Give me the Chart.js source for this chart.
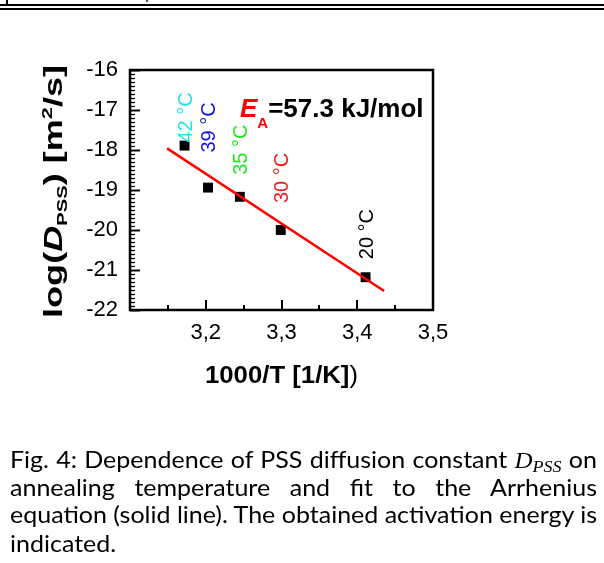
<!DOCTYPE html>
<html><head><meta charset="utf-8">
<script src="https://cdn.jsdelivr.net/npm/chart.js@4.4.1/dist/chart.umd.min.js"></script>
<style>
html,body{margin:0;padding:0;background:#fff;width:604px;height:563px;overflow:hidden}
#wrap{position:relative;width:604px;height:563px}
canvas{position:absolute;left:0;top:0}
.hl{position:absolute;background:#000}
.cap{position:absolute;left:10px;white-space:nowrap;font-family:Lato,"Open Sans",sans-serif;color:#000;line-height:1;transform-origin:0 0}
.math{font-family:"Liberation Serif","DejaVu Serif",serif;font-style:italic}
.bl{display:inline-block;width:0;height:0;vertical-align:baseline}
</style></head>
<body><div id="wrap">
<div class="hl" style="left:0;top:4px;width:604px;height:2px"></div>
<div class="hl" style="left:0;top:8px;width:604px;height:2px"></div>
<div class="hl" style="left:6px;top:0;width:2px;height:4px"></div>
<div class="hl" style="left:146px;top:0;width:2px;height:2px;background:#555"></div>
<canvas id="c" width="604" height="563"></canvas>
<div id="capbox"></div>
</div>
<script>
// ---- data ----
const temperatureLabels = ['42 °C', '39 °C', '35 °C', '30 °C', '20 °C'];
const inverseT = [3.172, 3.203, 3.245, 3.299, 3.411];      // 1000/T [1/K]
const logD = [-17.89, -18.94, -19.17, -20.00, -21.18];      // log(D_PSS)
const fitX = [3.149, 3.4355];
const fitY = [-17.96, -21.525];
const xTickLabels = ['3,2', '3,3', '3,4', '3,5'];
const yTickLabels = ['-16', '-17', '-18', '-19', '-20', '-21', '-22'];
const activationLabel = '=57.3 kJ/mol';
const captionLines = [
  'Fig. 4: Dependence of PSS diffusion constant {D} on',
  'annealing temperature and fit to the Arrhenius',
  'equation (solid line). The obtained activation energy is',
  'indicated.'
];

// ---- styles / layout (not data) ----
const labelColors = ['#22e6e6', '#1212e2', '#22e622', '#f01a1a', '#000000'];
const labelGapPx = [3, 35, 22, 27, 18];
const FONT = '"Liberation Sans", Arial, sans-serif';

function richWidth(ctx, segs) {
  let w = 0;
  for (const s of segs) { ctx.font = s.font; w += ctx.measureText(s.t).width; }
  return w;
}
function drawRich(ctx, segs) {
  let x = 0;
  for (const s of segs) {
    ctx.font = s.font; ctx.fillStyle = s.color || '#000';
    ctx.fillText(s.t, x, s.dy || 0);
    x += ctx.measureText(s.t).width;
  }
}

const deco = {
  id: 'deco',
  afterDraw(chart) {
    const { ctx, chartArea: a, scales: { x, y } } = chart;
    ctx.save();
    ctx.strokeStyle = '#000';
    // y ticks (inward)
    for (let i = 0; i <= 60; i++) {
      const v = -22 + i / 10;
      const py = Math.round(y.getPixelForValue(v)) + 0.5;
      const major = i % 10 === 0;
      ctx.lineWidth = major ? 2 : 1.3;
      ctx.beginPath(); ctx.moveTo(a.left, py); ctx.lineTo(a.left + (major ? 10 : 5), py); ctx.stroke();
    }
    // x ticks (inward)
    for (let k = 0; k <= 8; k++) {
      const v = 3.1 + k * 0.05;
      const px = Math.round(x.getPixelForValue(v));
      const major = k % 2 === 0;
      ctx.lineWidth = 2;
      ctx.beginPath(); ctx.moveTo(px, a.bottom); ctx.lineTo(px, a.bottom - (major ? 10 : 5)); ctx.stroke();
    }
    // frame
    ctx.lineWidth = 2.5;
    ctx.strokeRect(a.left, a.top, a.right - a.left, a.bottom - a.top);

    // temperature labels (rotated)
    ctx.textBaseline = 'alphabetic';
    ctx.textAlign = 'left';
    const fs = 20;
    temperatureLabels.forEach((t, i) => {
      const px = x.getPixelForValue(inverseT[i]);
      const py = y.getPixelForValue(logD[i]) - labelGapPx[i];
      ctx.save();
      ctx.translate(px, py);
      ctx.rotate(-Math.PI / 2);
      ctx.font = fs + 'px ' + FONT;
      ctx.fillStyle = labelColors[i];
      ctx.fillText(t, 0, fs * 0.716 / 2);
      ctx.restore();
    });

    // E_A label
    ctx.save();
    ctx.translate(a.left + 110, a.top + 47);
    drawRich(ctx, [
      { t: 'E', font: 'italic bold 26px ' + FONT, color: '#ff0000' },
      { t: 'A', font: 'bold 15px ' + FONT, color: '#ff0000', dy: 11 },
      { t: activationLabel, font: 'bold 26px ' + FONT, color: '#000' }
    ]);
    ctx.restore();

    // y title
    const ySegs = [
      { t: 'log(', font: 'bold 25px ' + FONT },
      { t: 'D', font: 'italic bold 25px ' + FONT },
      { t: 'PSS', font: 'bold 14px ' + FONT, dy: 5 },
      { t: ') [m', font: 'bold 25px ' + FONT },
      { t: '2', font: 'bold 15px ' + FONT, dy: -10 },
      { t: '/s]', font: 'bold 25px ' + FONT }
    ];
    const yw = richWidth(ctx, ySegs);
    ctx.save();
    ctx.translate(62, a.bottom + 8);
    ctx.rotate(-Math.PI / 2);
    ctx.scale(253 / yw, 1);
    drawRich(ctx, ySegs);
    ctx.restore();

    // x title
    const xSegs = [
      { t: '1000/T [1/K]', font: 'bold 23px ' + FONT },
      { t: ')', font: '23px ' + FONT }
    ];
    const xw = richWidth(ctx, xSegs);
    ctx.save();
    ctx.translate(205, a.bottom + 73);
    ctx.scale(153 / xw, 1);
    drawRich(ctx, xSegs);
    ctx.restore();

    ctx.restore();
  }
};

new Chart(document.getElementById('c'), {
  type: 'scatter',
  data: {
    datasets: [
      {
        type: 'line',
        data: fitX.map((v, i) => ({ x: v, y: fitY[i] })),
        borderColor: '#ff0000', borderWidth: 2.5, pointRadius: 0, fill: false
      },
      {
        data: inverseT.map((v, i) => ({ x: v, y: logD[i] })),
        pointStyle: 'rect', pointRadius: 7, pointBorderWidth: 0,
        backgroundColor: '#000', borderColor: '#000'
      }
    ]
  },
  options: {
    responsive: false, animation: false,
    layout: { padding: { left: 0, top: 70, right: 171, bottom: 213 } },
    plugins: { legend: { display: false }, tooltip: { enabled: false } },
    scales: {
      x: {
        type: 'linear', min: 3.1, max: 3.5,
        grid: { display: false, drawTicks: false }, border: { display: false },
        afterFit: s => { s.height = 40; },
        ticks: {
          stepSize: 0.05, autoSkip: false, maxRotation: 0, padding: 10,
          color: '#000', font: { family: FONT, size: 22 },
          callback: v => {
            const h = Math.round(v * 100);
            if (h % 10 !== 0) return '';
            const lab = (h / 100).toFixed(1).replace('.', ',');
            return xTickLabels.includes(lab) ? lab : '';
          }
        }
      },
      y: {
        type: 'linear', min: -22, max: -16,
        grid: { display: false, drawTicks: false }, border: { display: false },
        afterFit: s => { s.width = 130; },
        ticks: {
          stepSize: 1, padding: 12, color: '#000', font: { family: FONT, size: 22 },
          callback: v => { const lab = String(Math.round(v)); return yTickLabels.includes(lab) ? lab : ''; }
        }
      }
    }
  },
  plugins: [deco]
});

// ---- caption ----
(function () {
  const box = document.getElementById('capbox');
  const baselines = [468, 495.5, 523, 551.5];
  const target = 587;
  const fsz = 23.5;
  const divs = captionLines.map((line, i) => {
    const d = document.createElement('div');
    d.className = 'cap';
    d.style.fontSize = fsz + 'px';
    const parts = line.split('{D}');
    d.appendChild(document.createTextNode(parts[0]));
    if (parts.length > 1) {
      const m = document.createElement('span');
      m.className = 'math';
      m.innerHTML = 'D<sub style="font-size:0.72em;vertical-align:-0.25em;line-height:0">PSS</sub>';
      d.appendChild(m);
      d.appendChild(document.createTextNode(parts[1]));
    }
    const b = document.createElement('span'); b.className = 'bl';
    d.appendChild(b);
    box.appendChild(d);
    return d;
  });
  // horizontal compression so that the naturally spaced line 3 spans the text width
  const w3 = divs[2].getBoundingClientRect().width;
  const k = target / w3;
  divs.forEach((d, i) => {
    if (i < 3 && i !== 2) {
      const w = d.getBoundingClientRect().width;
      const spaces = (captionLines[i].match(/ /g) || []).length;
      if (spaces) d.style.wordSpacing = ((target / k - w) / spaces) + 'px';
    }
    d.style.transform = 'scaleX(' + k + ')';
    d.style.top = '0px';
    const bl = d.querySelector('.bl');
    const off = bl.getBoundingClientRect().top - d.getBoundingClientRect().top;
    d.style.top = (baselines[i] - off) + 'px';
  });
})();
</script>
</body></html>
